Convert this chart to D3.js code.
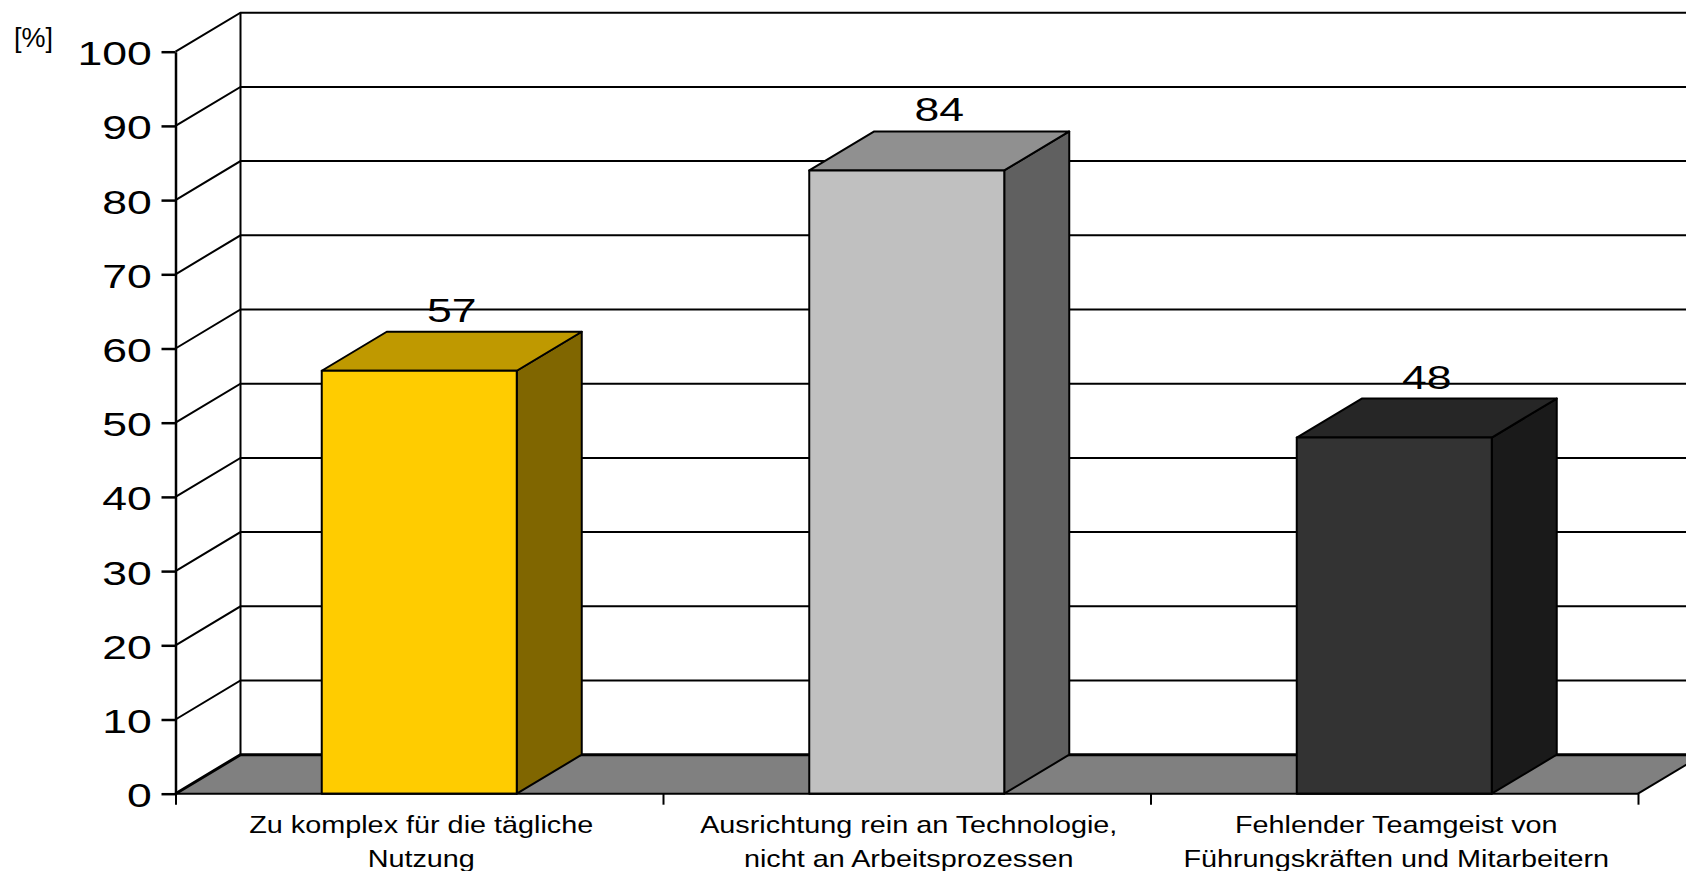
<!DOCTYPE html>
<html>
<head>
<meta charset="utf-8">
<script src="https://d3js.org/d3.v7.min.js"></script>
<style>
body { margin: 0; background: #fff; }
svg { display: block; }
text { font-family: "Liberation Sans", Arial, sans-serif; fill: #000; }
</style>
</head>
<body>
<script>
var w = 1686;
var h = 871;

// data
var categories = ["Komplex", "Technologie", "Teamgeist"];
var values = [57, 84, 48];
var yTicks = [0, 10, 20, 30, 40, 50, 60, 70, 80, 90, 100];
var categoryLines = [
    ["Zu komplex für die tägliche", "Nutzung"],
    ["Ausrichtung rein an Technologie,", "nicht an Arbeitsprozessen"],
    ["Fehlender Teamgeist von", "Führungskräften und Mitarbeitern"]
];
var frontColors = ["#ffcc00", "#c0c0c0", "#333333"];
var topColors = ["#bf9900", "#909090", "#262626"];
var sideColors = ["#806600", "#606060", "#1a1a1a"];

var x0 = 175.5, x1 = 1638, y0 = 793.7, y1 = 51.7;
var depthX = 65, depthY = 39;
var stretch = 1.35, labelStretch = 1.2;

var svg = d3.select("body")
    .append("svg")
    .attr("width", w)
    .attr("height", h)

var x = d3.scaleBand().domain(categories).range([x0, x1]).paddingInner(0.6).paddingOuter(0.3);
var y = d3.scaleLinear().domain([0, 100]).range([y0, y1]);
var step = x.step();

// back wall and floor
svg.append("path")
    .attr("d", d3.line()([[x0, y0], [x0 + depthX, y0 - depthY], [x1 + depthX, y0 - depthY], [x1, y0]]) + "Z")
    .style("fill", "#808080")
    .style("stroke", "none");

svg.append("line")
    .attr("x1", x0 + depthX).attr("x2", x0 + depthX)
    .attr("y1", y(0) - depthY).attr("y2", y(100) - depthY)
    .style("stroke", "#000").style("stroke-width", 2);

svg.append("g").selectAll("path")
    .data(yTicks)
    .enter().append("path")
    .attr("d", function(d) {
        return d3.line()([[x0, y(d)], [x0 + depthX, y(d) - depthY], [x1 + depthX, y(d) - depthY]]);
    })
    .style("fill", "none")
    .style("stroke", "#000")
    .style("stroke-width", function(d) { return d === 0 ? 3 : 2; });

// floor right edge
svg.append("line")
    .attr("x1", x1).attr("y1", y0)
    .attr("x2", x1 + depthX).attr("y2", y0 - depthY)
    .style("stroke", "#000").style("stroke-width", 2);

// bars
var bars = svg.append("g").selectAll("g")
    .data(values)
    .enter().append("g")
    .style("stroke", "#000")
    .style("stroke-width", 2)
    .style("stroke-linejoin", "round");

bars.append("path")
    .attr("d", function(d, i) {
        var l = x(categories[i]) + x.bandwidth(), t = y(d);
        return d3.line()([[l, y0], [l + depthX, y0 - depthY], [l + depthX, t - depthY], [l, t]]) + "Z";
    })
    .style("fill", function(d, i) { return sideColors[i]; });

bars.append("path")
    .attr("d", function(d, i) {
        var l = x(categories[i]), r = l + x.bandwidth(), t = y(d);
        return d3.line()([[l, t], [l + depthX, t - depthY], [r + depthX, t - depthY], [r, t]]) + "Z";
    })
    .style("fill", function(d, i) { return topColors[i]; });

bars.append("rect")
    .attr("x", function(d, i) { return x(categories[i]); })
    .attr("y", function(d) { return y(d); })
    .attr("width", x.bandwidth())
    .attr("height", function(d) { return y0 - y(d); })
    .style("fill", function(d, i) { return frontColors[i]; });

// value labels
svg.append("g").selectAll("text")
    .data(values)
    .enter().append("text")
    .attr("text-anchor", "middle")
    .attr("font-size", 33)
    .attr("transform", function(d, i) {
        var cx = x(categories[i]) + x.bandwidth() / 2 + depthX / 2;
        return "translate(" + cx + "," + (y(d) - depthY - 10) + ") scale(" + stretch + ",1)";
    })
    .text(function(d) { return d; });

// y axis
var yAxis = svg.append("g")
    .attr("transform", "translate(" + x0 + ",0)")
    .call(d3.axisLeft(y).tickValues(yTicks).tickSize(14).tickSizeOuter(0));
yAxis.selectAll("path, line").style("stroke", "#000").style("stroke-width", 2.5);
yAxis.selectAll("text")
    .attr("font-size", 33)
    .attr("font-family", null)
    .attr("x", -23.8 / stretch)
    .attr("dy", 13)
    .attr("transform", "scale(" + stretch + ",1)");

// x axis
var xTicks = d3.range(categories.length + 1).map(function(i) { return x0 + i * step; });
var xLine = d3.scaleIdentity();
var xAxis = svg.append("g")
    .attr("transform", "translate(0," + y0 + ")")
    .call(d3.axisBottom(xLine).tickValues(xTicks).tickSize(11).tickSizeOuter(0).tickFormat(""));
xAxis.select("path").attr("d", "M" + x0 + ",0H" + x1);
xAxis.selectAll("path, line").style("stroke", "#000").style("stroke-width", 2);

// category labels
var labels = svg.append("g").selectAll("g")
    .data(categoryLines)
    .enter().append("g")
    .attr("transform", function(d, i) {
        return "translate(" + (x0 + (i + 0.5) * step + 2) + ",0)";
    });
labels.selectAll("text")
    .data(function(d) { return d; })
    .enter().append("text")
    .attr("text-anchor", "middle")
    .attr("font-size", 24)
    .attr("transform", function(d, i) {
        return "translate(0," + (833 + i * 33.5) + ") scale(" + labelStretch + ",1)";
    })
    .text(function(d) { return d; });

// unit
svg.append("text")
    .attr("x", 14)
    .attr("y", 47)
    .attr("font-size", 27)
    .text("[%]");
</script>
</body>
</html>
